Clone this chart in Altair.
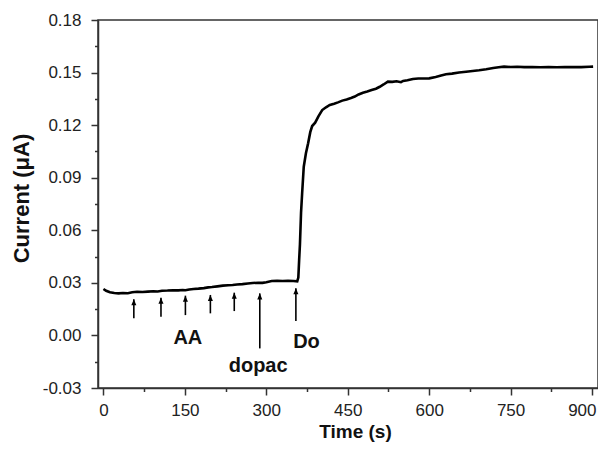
import altair as alt
import pandas as pd

# ---- data ----
time_s = [0, 5, 12, 20, 28, 36, 45, 53, 62, 72, 82, 92, 100, 108, 118, 128, 138, 146, 151,
          158, 166, 175, 185, 193, 200, 210, 220, 230, 238, 246, 256, 266, 275, 285, 293,
          300, 310, 320, 330, 340, 350, 357, 359, 360.5, 362, 364, 366, 369, 373, 377, 381,
          384.5, 390, 396, 403, 410, 417, 425, 432, 440, 448, 456, 463, 470, 478, 486, 494,
          502, 509, 516, 524, 532, 540, 548, 552, 560, 570, 580, 590, 600, 612, 622, 631,
          642, 655, 668, 680, 692, 705, 718, 728, 738, 750, 762, 775, 790, 805, 820, 835,
          850, 865, 880, 895, 902]
current_uA = [0.0265, 0.0255, 0.0246, 0.0242, 0.0240, 0.0242, 0.0241, 0.0246, 0.0249, 0.0248,
              0.0250, 0.0252, 0.0251, 0.0255, 0.0256, 0.0258, 0.0257, 0.0259, 0.0258,
              0.0262, 0.0265, 0.0267, 0.0270, 0.0274, 0.0276, 0.0280, 0.0284, 0.0286, 0.0288,
              0.0291, 0.0293, 0.0296, 0.0299, 0.0301, 0.0300,
              0.0304, 0.0311, 0.0312, 0.0311, 0.0312, 0.0311, 0.0309, 0.0330, 0.0430, 0.0520,
              0.0700, 0.0810, 0.0963, 0.1040, 0.1096, 0.1160,
              0.1195, 0.1214, 0.1250, 0.1286, 0.1302, 0.1315, 0.1322, 0.1330, 0.1340, 0.1347,
              0.1355, 0.1363, 0.1375, 0.1385, 0.1392, 0.1400,
              0.1408, 0.1419, 0.1432, 0.1448, 0.1447, 0.1450, 0.1445, 0.1452, 0.1456, 0.1463,
              0.1466, 0.1466, 0.1467, 0.1475, 0.1483, 0.1490,
              0.1494, 0.1500, 0.1505, 0.1509, 0.1513, 0.1519, 0.1526, 0.1530, 0.1534, 0.1532,
              0.1533, 0.1531, 0.1532, 0.1530, 0.1532, 0.1530,
              0.1531, 0.1532, 0.1531, 0.1533, 0.1534]

arrow_time = [56, 106, 151, 197, 241, 288, 354.5]
arrow_top = [0.0206, 0.0215, 0.0227, 0.0231, 0.0244, 0.0240, 0.0269]
arrow_bottom = [0.0098, 0.0107, 0.0116, 0.0126, 0.0139, -0.0074, 0.0082]

label_text = ["AA", "dopac", "Do"]
label_time = [155.5, 285, 374]
label_current = [-0.0017, -0.0175, -0.0036]

x_major = [0, 150, 300, 450, 600, 750, 900]
x_minor = [75, 225, 375, 525, 675, 825]
y_major = [-0.03, 0.0, 0.03, 0.06, 0.09, 0.12, 0.15, 0.18]
y_minor = [-0.015, 0.015, 0.045, 0.075, 0.105, 0.135, 0.165]

line_df = pd.DataFrame({"t": time_s, "v": current_uA})
arrow_df = pd.DataFrame({"t": arrow_time, "top": arrow_top, "bottom": arrow_bottom})
label_df = pd.DataFrame({"t": label_time, "v": label_current, "txt": label_text})

FONT = "Liberation Sans"
AX = "#333333"

xscale = alt.Scale(domain=[-10, 911], nice=False, zero=False)
yscale = alt.Scale(domain=[-0.03, 0.18], nice=False, zero=False)

common_axis = dict(
    grid=False, domainColor=AX, domainWidth=1.5, tickColor=AX, tickWidth=1.5,
    labelFont=FONT, labelFontSize=17, labelColor="#222222", labelFlush=False,
    labelOverlap=False, titleFont=FONT, titleFontWeight="bold",
    titleColor="#111111",
)

x_major_axis = alt.Axis(
    values=x_major, format="d", tickSize=7, labelPadding=7, orient="bottom",
    labelAlign={"condition": {"test": "datum.value === 900", "value": "right"}, "value": "center"},
    labelOffset={"condition": {"test": "datum.value === 900", "value": 4}, "value": 0},
    title="Time (s)", titleX=257, titleY=49, titleBaseline="alphabetic", titleAlign="center",
    titleFontSize=19, **common_axis,
)
y_major_axis = alt.Axis(
    values=y_major, tickSize=7, labelPadding=10, orient="left",
    labelExpr="datum.value < 0 ? '-' + format(-datum.value, '.2f') : format(datum.value, '.2f')",
    title="Current (μA)", titleX=-77, titleY=178, titleBaseline="middle", titleAlign="center",
    titleFontSize=22, **common_axis,
)
x_minor_axis = alt.Axis(values=x_minor, labels=False, tickSize=3.5, tickColor=AX, tickWidth=1.5,
                        domain=False, grid=False, title=None, orient="bottom")
y_minor_axis = alt.Axis(values=y_minor, labels=False, tickSize=3.5, tickColor=AX, tickWidth=1.5,
                        domain=False, grid=False, title=None, orient="left")

line = alt.Chart(line_df).mark_line(color="black", strokeWidth=2.6).encode(
    x=alt.X("t:Q", scale=xscale, axis=x_major_axis),
    y=alt.Y("v:Q", scale=yscale, axis=y_major_axis),
)

shafts = alt.Chart(arrow_df).mark_rule(color="black", strokeWidth=1.6).encode(
    x=alt.X("t:Q", scale=xscale, axis=x_minor_axis),
    y=alt.Y("bottom:Q", scale=yscale, axis=y_minor_axis),
    y2="top:Q",
)

heads = alt.Chart(arrow_df).mark_point(
    shape="M0,0L-0.75,1.8L0.75,1.8Z", filled=True, size=45, color="black", opacity=1
).encode(
    x=alt.X("t:Q", scale=xscale, axis=None),
    y=alt.Y("top:Q", scale=yscale, axis=None),
)

labels = alt.Chart(label_df).mark_text(
    font=FONT, fontSize=20, fontWeight="bold", color="#111111", align="center", baseline="middle"
).encode(
    x=alt.X("t:Q", scale=xscale, axis=None),
    y=alt.Y("v:Q", scale=yscale, axis=None),
    text="txt:N",
)

chart = alt.layer(line, shafts, heads, labels).resolve_axis(
    x="independent", y="independent"
).properties(
    width=500, height=368,
    padding={"left": 90, "top": 12, "right": 0, "bottom": 55},
    autosize=alt.AutoSizeParams(type="none"),
).configure_view(stroke=AX, strokeWidth=1.5)

chart.save("out.html", embed_options={"renderer": "svg", "actions": False})
